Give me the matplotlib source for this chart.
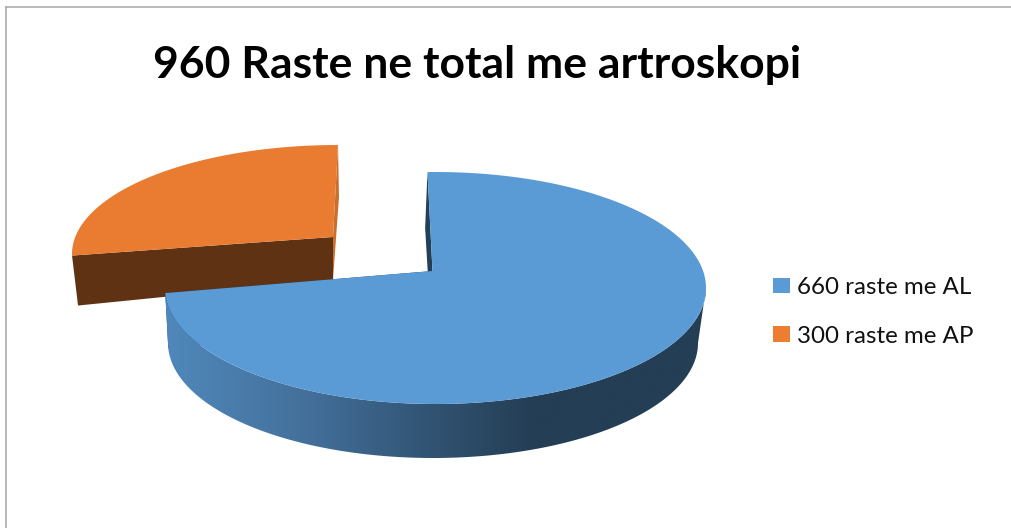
import numpy as np
import matplotlib
matplotlib.use('Agg')
import matplotlib.pyplot as plt
from matplotlib.colors import LinearSegmentedColormap
from matplotlib.patches import Patch, Polygon

plt.rcParams['font.family'] = ['Lato', 'DejaVu Sans']

groups = ['AL', 'AP']
counts = [660, 300]

BLUE = '#5B9BD5'
ORANGE = '#E97C30'
LEGEND_COLORS = ['#5B9BD5', '#ED7D31']


def slice_angles(i):
    """Start and end angle of slice i, clockwise from twelve o'clock"""
    total = sum(counts)
    start = 360 * sum(counts[:i]) / total
    return start, start + 360 * counts[i] / total


def view_angle(theta, rot):
    # the tilted view bunches angles up towards the far side of the disc
    return theta + 12.7 * (1 - np.cos(np.radians(2 * theta))) + rot


def rim(t, ell):
    cx, cy, rx, ry = ell
    t = np.radians(t)
    return np.column_stack([cx + rx * np.sin(t), cy - ry * np.cos(t)])


def draw_slice(ax, i, rot, top, bottom, apex_top, apex_low, top_color, face_colors):
    start, end = slice_angles(i)
    t0, t1 = view_angle(start, rot), view_angle(end, rot)
    t = np.linspace(t0, t1, 300)
    top_arc = rim(t, top)
    low_arc = rim(t, bottom)

    # cut faces first, the top surface goes over them
    ax.add_patch(Polygon([top_arc[0], apex_top, apex_low, low_arc[0]],
                         color=face_colors[0], lw=0, zorder=2))
    ax.add_patch(Polygon([top_arc[-1], apex_top, apex_low, low_arc[-1]],
                         color=face_colors[1], lw=0, zorder=2))
    return t0, t1, Polygon(np.vstack([top_arc, [apex_top]]), color=top_color, lw=0, zorder=4)


fig = plt.figure(figsize=(10.12, 5.28), dpi=100)
ax = fig.add_axes([0, 0, 1, 1])

# frame of the chart area, only the top and left sides are in view
ax.plot([6.5, 1012], [7, 7], color='#A6A6A6', lw=1.1, zorder=1)
ax.plot([6.5, 6.5], [7, 528], color='#A6A6A6', lw=1.1, zorder=1)

# exploded orange slice, behind the blue one
t0, t1, orange_top = draw_slice(ax, 1, 0, (338, 254, 266, 109), (339, 304, 261, 107),
                                (333, 237), (333, 280), ORANGE, ['#5F3214', '#C96E2C'])
ax.add_patch(orange_top)

# blue slice
top_ell = (435.5, 288, 270.5, 116)
low_ell = (433, 343, 265, 115)
t0, t1, blue_top = draw_slice(ax, 0, -1.7, top_ell, low_ell,
                              (432.5, 271), (431, 326), BLUE, ['#234058', '#234058'])

# outer wall from the right extreme of the disc round the front to the cut
t = np.linspace(90, t1, 300)
wall = Polygon(np.vstack([rim(t, top_ell), rim(t[::-1], low_ell)]),
               closed=True, facecolor='none', edgecolor='none', zorder=3)
ax.add_patch(wall)
shade = LinearSegmentedColormap.from_list('wall', [
    (0.00, '#5088BB'), (0.25, '#44719C'), (0.52, '#2F506E'),
    (0.68, '#243E55'), (1.00, '#243E55')])
img = ax.imshow(np.linspace(0, 1, 512).reshape(1, -1), cmap=shade, aspect='auto',
                extent=(165, 706, 460, 280), zorder=3)
img.set_clip_path(wall)
ax.add_patch(blue_top)

ax.set_xlim(0, 1012)
ax.set_ylim(528, 0)
ax.axis('off')

ax.text(477.5, 78, f'{sum(counts)} Raste ne total me artroskopi', fontsize=32,
        fontweight='bold', color='black', ha='center', va='baseline')

handles = [Patch(facecolor=c, edgecolor='none') for c in LEGEND_COLORS]
labels = [f'{n} raste me {g}' for n, g in zip(counts, groups)]
ax.legend(handles, labels, loc='upper left', bbox_to_anchor=(773, 277),
          bbox_transform=ax.transData, frameon=False, fontsize=17.4,
          borderpad=0, borderaxespad=0, handlelength=0.70, handleheight=0.62,
          handletextpad=0.29, labelspacing=1.14, labelcolor='#111111')

fig.savefig('out.png', dpi=100)
